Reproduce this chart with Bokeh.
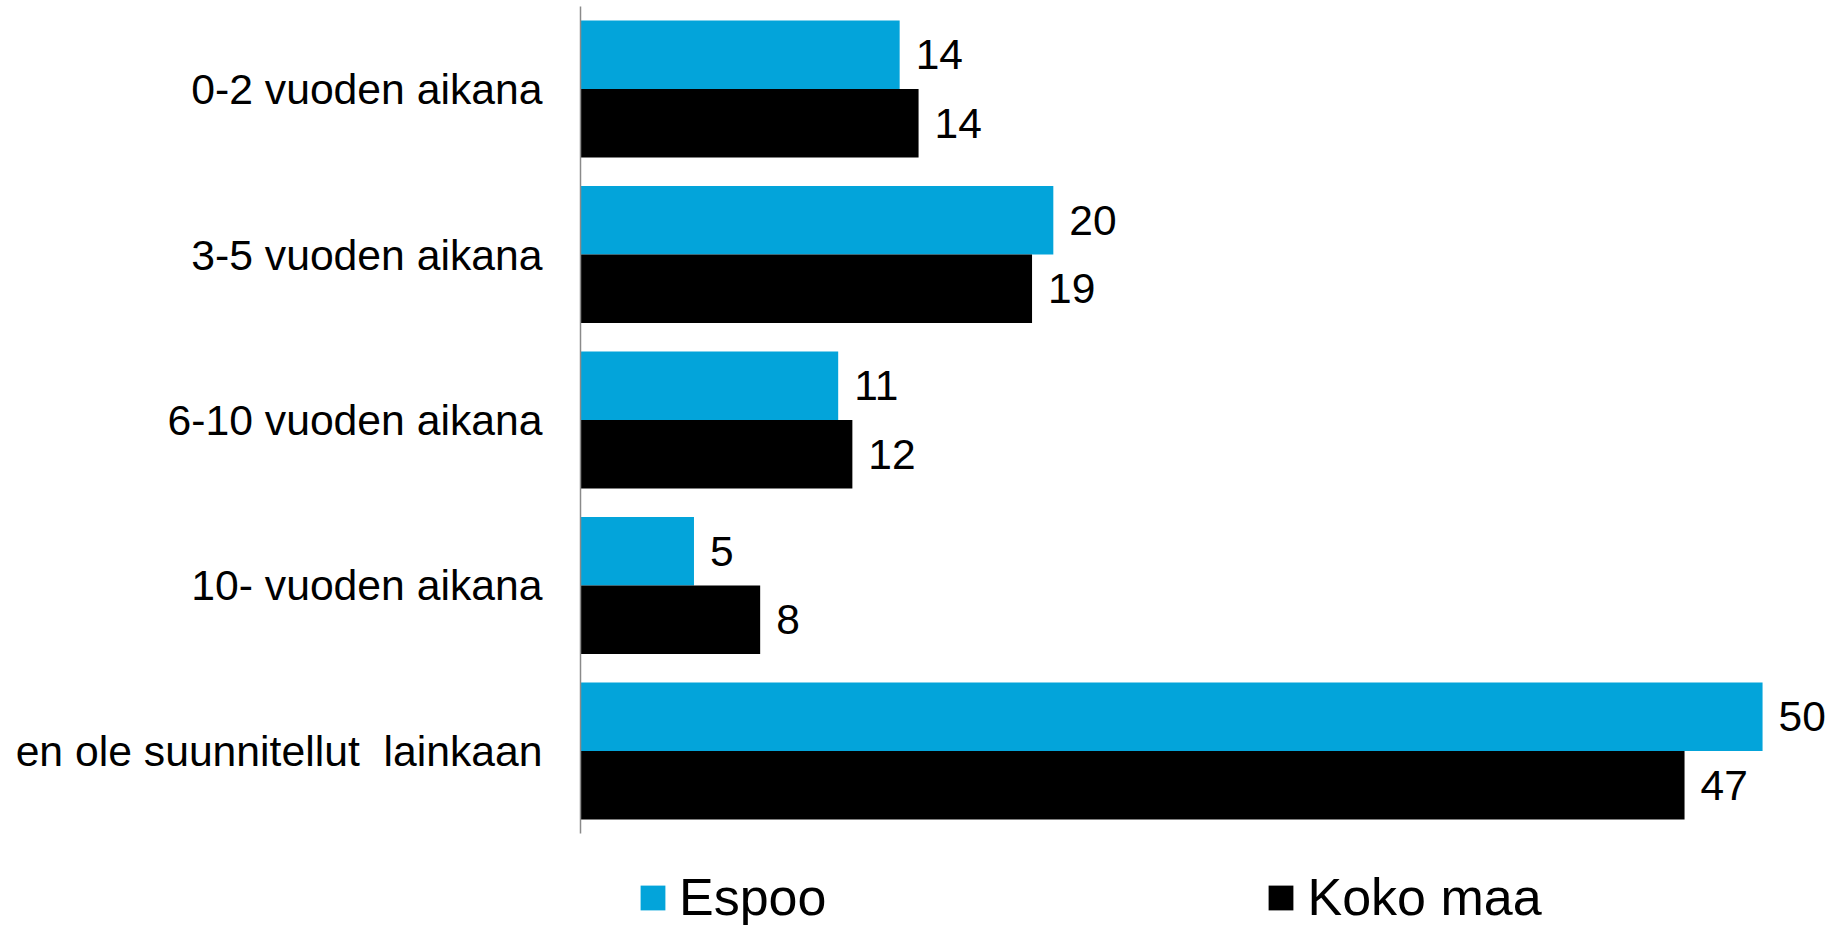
from bokeh.plotting import figure
from bokeh.models import Range1d, ColumnDataSource, Legend, LegendItem, FixedTicker
from bokeh.embed import file_html
from bokeh.resources import INLINE
from bokeh.core.properties import value

# ---- data ----
categories = ["0-2 vuoden aikana", "3-5 vuoden aikana", "6-10 vuoden aikana",
              "10- vuoden aikana", "en ole suunnitellut \u00a0lainkaan"]
espoo = [13.5, 20.0, 10.9, 4.8, 50.0]
koko_maa = [14.3, 19.1, 11.5, 7.6, 46.7]
espoo_labels = ["14", "20", "11", "5", "50"]
koko_maa_labels = ["14", "19", "12", "8", "47"]
series_names = ["Espoo", "Koko maa"]

# ---- style ----
BLUE = "#03A4DA"
BLACK = "#000000"
FONT = "Liberation Sans"
OFF = 0.207   # half the bar pair offset (category units)
BAR_H = 0.414

pos = list(range(len(categories)))
src = ColumnDataSource(dict(
    pos=pos,
    y_espoo=[i - OFF for i in pos],
    y_koko=[i + OFF for i in pos],
    espoo=espoo, koko=koko_maa,
    espoo_lbl=espoo_labels, koko_lbl=koko_maa_labels))

p = figure(width=1837, height=925,
           y_range=Range1d(5.0544, -0.4985),
           x_range=Range1d(0, 53.17),
           output_backend="svg", toolbar_location=None,
           x_axis_location=None,
           min_border_left=580, min_border_right=0,
           min_border_top=6, min_border_bottom=0)

p.outline_line_color = None
p.xgrid.visible = False
p.ygrid.visible = False
p.background_fill_color = "white"
p.border_fill_color = "white"

ax = p.yaxis[0]
ax.ticker = FixedTicker(ticks=pos)
ax.major_label_overrides = {i: c for i, c in zip(pos, categories)}
ax.bounds = (-0.4985, 4.4985)
ax.major_tick_line_color = None
ax.minor_tick_line_color = None
ax.major_tick_out = 0
ax.major_tick_in = 0
ax.axis_line_color = "#8a8a8a"
ax.axis_line_width = 1.5
ax.major_label_standoff = 38
ax.major_label_text_font = FONT
ax.major_label_text_font_size = "42.7px"
ax.major_label_text_color = "#000000"

r1 = p.hbar(y="y_espoo", left=0, right="espoo", height=BAR_H,
            fill_color=BLUE, line_color=None, source=src)
r2 = p.hbar(y="y_koko", left=0, right="koko", height=BAR_H,
            fill_color=BLACK, line_color=None, source=src)

p.text(x="espoo", y="y_espoo", text="espoo_lbl",
       x_offset=16, text_align="left", text_baseline="middle",
       text_font=value(FONT), text_font_size="42.5px", text_color="#000000", source=src)
p.text(x="koko", y="y_koko", text="koko_lbl",
       x_offset=16, text_align="left", text_baseline="middle",
       text_font=value(FONT), text_font_size="42.5px", text_color="#000000", source=src)

legend = Legend(items=[LegendItem(label=series_names[0], renderers=[r1]),
                       LegendItem(label=series_names[1], renderers=[r2])],
                location=(57, -2), orientation="horizontal",
                glyph_width=31, glyph_height=31, label_standoff=11, spacing=439,
                padding=0, margin=0, border_line_color=None,
                background_fill_alpha=0,
                label_text_font=FONT, label_text_font_size="52px",
                label_text_color="#000000")
p.add_layout(legend)

open("out.html", "w").write(file_html(p, INLINE))
